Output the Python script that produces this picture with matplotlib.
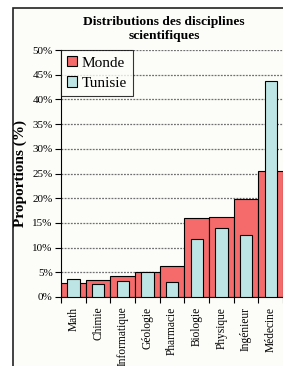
import matplotlib.pyplot as plt
import numpy as np

# data (percentages)
disciplines = ['Math', 'Chimie', 'Informatique', 'Géologie', 'Pharmacie',
               'Biologie', 'Physique', 'Ingénieur', 'Médecine']
monde = [2.8, 3.5, 4.3, 5.1, 6.3, 16.0, 16.2, 19.8, 25.5]
tunisie = [3.7, 2.7, 3.2, 5.0, 3.0, 11.8, 13.9, 12.5, 43.7]

plt.rcParams['font.family'] = ['Liberation Serif', 'DejaVu Serif']

fig = plt.figure(figsize=(2.83, 3.66), dpi=100)
fig.patch.set_facecolor('white')

# outer chart frame (cut off at right and bottom like the source)
frame = plt.Rectangle((13 / 283, -0.1), 1.0, 358 / 366 + 0.1,
                      transform=fig.transFigure, facecolor='#fcfdf9',
                      edgecolor='#222222', linewidth=1.2, zorder=-10)
fig.patches.append(frame)

ax = fig.add_axes([61 / 283, 69 / 366, 1 - 61 / 283, 247 / 366])
ax.set_zorder(5)
ax.set_facecolor('#fcfdf9')

x = np.arange(len(disciplines))
ax.bar(x, monde, width=1.0, align='edge', color='#f56a6a',
       edgecolor='black', linewidth=0.8, label='Monde', zorder=2)
ax.bar(x + 0.25, tunisie, width=0.5, align='edge', color='#bde5e5',
       edgecolor='black', linewidth=0.8, label='Tunisie', zorder=3)

ax.set_xlim(0, (283 - 61) / 25.6)
ax.set_ylim(0, 50)
ax.set_yticks(np.arange(0, 51, 5))
ax.set_yticklabels([f'{v}%' for v in range(0, 51, 5)], fontsize=8)
ax.yaxis.grid(True, linestyle=(0, (1.5, 1)), color='#707070', linewidth=0.9, zorder=1)
ax.set_axisbelow(True)

ax.set_xticks(x + 0.5)
ax.set_xticklabels(disciplines, rotation=90, fontsize=8.3)
ax.set_xticks(np.arange(0, len(disciplines) + 1), minor=True)
ax.tick_params(axis='x', which='major', length=0, pad=7)
ax.tick_params(axis='x', which='minor', length=4, direction='out', width=0.8)
ax.tick_params(axis='y', length=4, width=0.8, pad=2)

for side in ['top', 'right']:
    ax.spines[side].set_visible(False)
for side in ['left', 'bottom']:
    ax.spines[side].set_linewidth(0.8)

ax.set_ylabel('Proportions (%)', fontsize=11, fontweight='bold', labelpad=4)

leg = ax.legend(loc='upper left', bbox_to_anchor=(0.0, 1.0), fontsize=11,
                frameon=True, fancybox=False, edgecolor='black',
                handlelength=0.65, handleheight=0.65, handletextpad=0.3,
                borderpad=0.4, labelspacing=0.45, borderaxespad=0)
leg.get_frame().set_linewidth(0.8)
leg.get_frame().set_facecolor('#fcfdf9')

fig.text(164 / 283, 1 - 29 / 366, 'Distributions des disciplines\nscientifiques',
         ha='center', va='center', fontsize=9.7, fontweight='bold',
         linespacing=1.3)

plt.savefig('out.png', dpi=100)
